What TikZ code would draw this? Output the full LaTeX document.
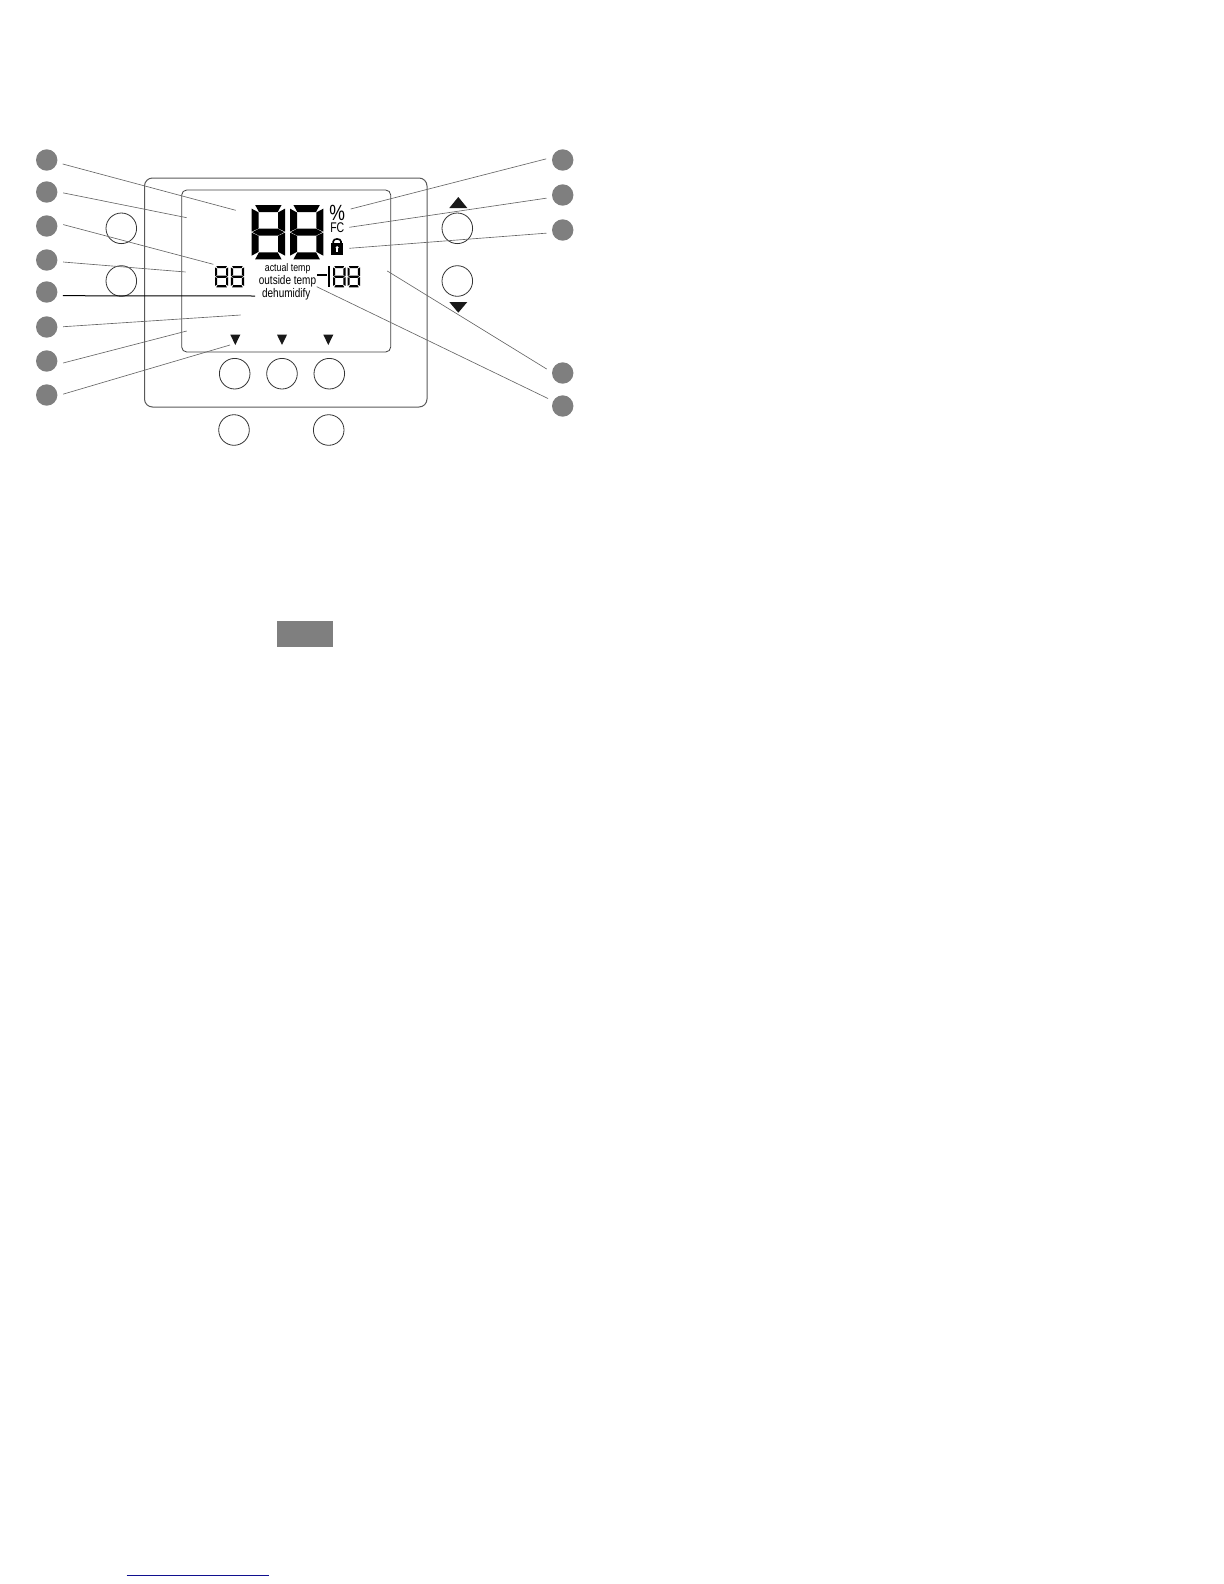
\documentclass[tikz,border=0pt]{standalone}
\usepackage{fontspec}
\setmainfont{Liberation Sans}
\definecolor{calloutGray}{HTML}{7F7F7F}
\definecolor{linkBlue}{HTML}{10108F}
\newcommand{\segDigit}[5]{
   \begin{scope}[shift={(#1,#2)}]
      \foreach \sx/\ox in {1/0,-1/#3} {
         \begin{scope}[shift={(\ox,0)},xscale=\sx]
            \fill (0,{#5*0.45+0.5}) -- (#5,{#5+0.5}) -- (#5,{#4/2-#5/2-0.3}) -- (0,{#4/2-0.5}) -- cycle;
            \fill (0,{#4-#5*0.45-0.5}) -- (#5,{#4-#5-0.5}) -- (#5,{#4/2+#5/2+0.3}) -- (0,{#4/2+0.5}) -- cycle;
         \end{scope}
      }
      \fill ({#5*0.45+0.3},0) -- ({#3-#5*0.45-0.3},0) -- ({#3-#5-0.3},#5) -- ({#5+0.3},#5) -- cycle;
      \fill ({#5*0.45+0.3},#4) -- ({#3-#5*0.45-0.3},#4) -- ({#3-#5-0.3},{#4-#5}) -- ({#5+0.3},{#4-#5}) -- cycle;
      \fill (0.7,{#4/2}) -- ({#5+0.3},{#4/2-#5/2}) -- ({#3-#5-0.3},{#4/2-#5/2}) -- ({#3-0.7},{#4/2}) -- ({#3-#5-0.3},{#4/2+#5/2}) -- ({#5+0.3},{#4/2+#5/2}) -- cycle;
   \end{scope}
}
\tikzset{
   callout/.style={circle,fill=calloutGray,inner sep=0pt,minimum size=10.7bp,outer sep=2.9bp},
   button/.style={circle,draw=black!80,line width=0.4bp,inner sep=0pt,minimum size=15.3bp},
   leader/.style={draw=black!60,line width=0.32bp},
   lcdText/.style={inner sep=0pt,xscale=0.8,text=black}
}

\begin{document}
\begin{tikzpicture}[x=0.5bp,y=-0.5bp]
   \useasboundingbox (0,0) rectangle (1224,1584);

   \draw[black!65,line width=0.5bp,rounded corners=4bp] (144.5,178) rectangle (427,407);
   \draw[black!75,line width=0.4bp,rounded corners=2.5bp] (181.7,190) rectangle (390.7,352);

   \node[callout] (callA) at (46.7,160) {};
   \node[callout] (callB) at (46.7,192) {};
   \node[callout] (callC) at (46.7,226) {};
   \node[callout] (callD) at (46.7,260) {};
   \node[callout] (callE) at (46.7,292) {};
   \node[callout] (callF) at (46.7,327) {};
   \node[callout] (callG) at (46.7,361) {};
   \node[callout] (callH) at (46.7,395) {};
   \node[callout] (callI) at (562.7,160) {};
   \node[callout] (callJ) at (562.7,195) {};
   \node[callout] (callK) at (562.7,230) {};
   \node[callout] (callL) at (562.7,373) {};
   \node[callout] (callM) at (562.7,406) {};

   \node[button] (btnLeftTop) at (121.3,228.3) {};
   \node[button] (btnLeftBot) at (121.3,281) {};
   \node[button] (btnUp) at (457.3,228.3) {};
   \node[button] (btnDown) at (457.3,281) {};
   \node[button] (btnSoftA) at (234.7,373.7) {};
   \node[button] (btnSoftB) at (282,373.7) {};
   \node[button] (btnSoftC) at (329.3,373.7) {};
   \node[button] (btnLowA) at (234,430) {};
   \node[button] (btnLowB) at (328.7,430) {};

   \fill[black!90] (449.3,208) -- (458.3,197) -- (467.3,208) -- cycle;
   \fill[black!90] (449.3,302) -- (458.3,312.7) -- (467.3,302) -- cycle;
   \foreach \tx in {235.3,282,328.3} {
      \fill[black!90] (\tx-5,334.7) -- (\tx+5,334.7) -- (\tx,345) -- cycle;
   }

   \segDigit{251.7}{205}{33.3}{54.3}{7}
   \segDigit{290}{205}{33.3}{54.3}{7}
   \segDigit{215}{266}{13.2}{21.3}{2.2}
   \segDigit{230.8}{266}{13.2}{21.3}{2.2}
   \segDigit{333}{266}{12.5}{21.3}{2.2}
   \segDigit{347.5}{266}{12.5}{21.3}{2.2}
   \fill (316.7,274.3) rectangle (327,276.1);
   \fill (328,266) rectangle (330.4,287.3);

   \node[lcdText,font=\fontsize{5.5bp}{6bp}\selectfont] (txtActual) at (287.7,268.4) {actual temp};
   \node[lcdText,font=\fontsize{6.25bp}{7bp}\selectfont] (txtOutside) at (287.5,281.4) {outside temp};
   \node[lcdText,font=\fontsize{6.25bp}{7bp}\selectfont] (txtDehum) at (286.3,294) {dehumidify};
   \node[inner sep=0pt,xscale=0.8,font=\fontsize{11bp}{12bp}\selectfont] (txtPercent) at (337.3,212.7) {\%};
   \node[inner sep=0pt,xscale=0.75,font=\fontsize{7bp}{8bp}\selectfont] (txtFC) at (337.3,227.7) {FC};

   \fill (331,243.3) rectangle (343.3,254.7);
   \draw[line width=0.8bp] (333.2,243.5) -- (333.2,241.5) arc[start angle=180,end angle=0,x radius=3.9,y radius=-2.6] -- (341,243.5);
   \fill[white] (337.2,247.6) circle[radius=1.6];
   \fill[white] (336.4,248) rectangle (338,252);

   \coordinate (endA) at (235.7,210.3);
   \coordinate (endB) at (186.7,217.7);
   \coordinate (endC) at (213.3,264.3);
   \coordinate (endD) at (185.7,272);
   \coordinate (endE) at (255,296);
   \coordinate (endF) at (240.7,315);
   \coordinate (endG) at (186.7,331);
   \coordinate (endH) at (230,345);
   \coordinate (endI) at (350.7,209);
   \coordinate (endJ) at (349.3,227.3);
   \coordinate (endK) at (349.3,248.3);
   \coordinate (endL) at (387.3,271);
   \coordinate (endM) at (316.7,286.7);

   \draw[leader] (callA.-14) -- (endA);
   \draw[leader] (callB.-3) -- (endB);
   \draw[leader] (callC.5) -- (endC);
   \draw[leader] (callD.-7) -- (endD);
   \draw[black,line width=0.5bp] (callE.-13) -- (endE);
   \draw[leader] (callF.1) -- (endF);
   \draw[leader] (callG.-7) -- (endG);
   \draw[leader] (callH.3) -- (endH);
   \draw[leader] (callI.176) -- (endI);
   \draw[leader] (callJ.191) -- (endJ);
   \draw[leader] (callK.191) -- (endK);
   \draw[leader] (callL.166) -- (endL);
   \draw[leader] (callM.153) -- (endM);

   \fill[calloutGray] (277,621) rectangle (332.7,646.7);
   \draw[linkBlue,line width=0.8bp] (126.7,1575.3) -- (269,1575.3);
\end{tikzpicture}
\end{document}
